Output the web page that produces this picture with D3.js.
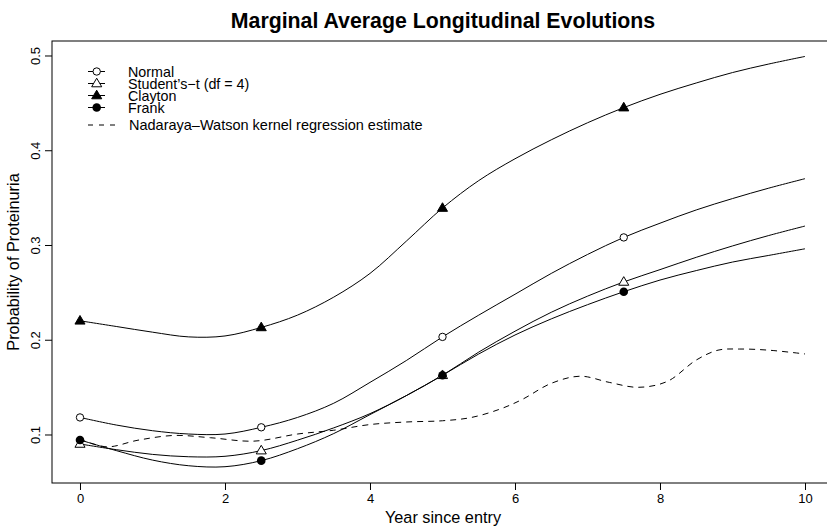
<!DOCTYPE html>
<html>
<head>
<meta charset="utf-8">
<script src="https://cdn.jsdelivr.net/npm/d3@7"></script>
<style>
  html, body { margin: 0; padding: 0; background: #fff; }
  svg { display: block; font-family: "Liberation Sans", Arial, Helvetica, sans-serif; }
</style>
</head>
<body>
<svg id="chart" width="827" height="529"></svg>
<script>
// ---------------- data ----------------
const years = [0,0.5,1,1.5,2,2.5,3,3.5,4,4.5,5,5.5,6,6.5,7,7.5,8,8.5,9,9.5,10];
const markerYears = [0, 2.5, 5, 7.5];

const normal  = [0.118,0.110,0.104,0.1005,0.1005,0.1076,0.118,0.133,0.155,0.178,0.203,0.226,0.248,0.270,0.290,0.308,0.323,0.337,0.349,0.360,0.370];
const student = [0.090,0.084,0.079,0.0765,0.077,0.083,0.094,0.107,0.122,0.141,0.1625,0.187,0.209,0.229,0.246,0.261,0.274,0.287,0.299,0.310,0.320];
const clayton = [0.220,0.214,0.208,0.203,0.204,0.213,0.226,0.245,0.270,0.304,0.339,0.368,0.391,0.411,0.429,0.445,0.459,0.471,0.482,0.491,0.499];
const frank   = [0.0942,0.083,0.073,0.067,0.066,0.0724,0.085,0.101,0.121,0.141,0.1625,0.185,0.205,0.222,0.237,0.2507,0.263,0.273,0.282,0.289,0.296];

const nwX = [0,0.37,0.8,1.3,1.8,2.4,3.0,3.5,4.0,4.5,5.0,5.4,5.8,6.1,6.5,6.9,7.3,7.7,8.1,8.5,8.8,9.1,9.5,10];
const nwY = [0.095,0.087,0.094,0.099,0.0966,0.093,0.1005,0.1045,0.1105,0.1132,0.1145,0.118,0.127,0.137,0.154,0.1615,0.155,0.1498,0.156,0.1786,0.189,0.1902,0.189,0.185];

const xTicks = [0,2,4,6,8,10];
const yTicks = [0.1,0.2,0.3,0.4,0.5];

const seriesNames = ["Normal", "Student\u2019s\u2212t (df = 4)", "Clayton", "Frank"];
const seriesData = [normal, student, clayton, frank];
const seriesSymbols = ["openCircle", "openTriangle", "filledTriangle", "filledCircle"];
const nwName = "Nadaraya\u2013Watson kernel regression estimate";

const title = "Marginal Average Longitudinal Evolutions";
const xLabel = "Year since entry";
const yLabel = "Probability of Proteinuria";

// ---------------- layout ----------------
const svg = d3.select("#chart");
const L = 52, R = 834, T = 41, B = 483;
const x = d3.scaleLinear().domain([-0.3862, 10.4]).range([L, R]);
const y = d3.scaleLinear().domain([0.04881, 0.5153]).range([B, T]);

// box
svg.append("rect").attr("x", L).attr("y", T).attr("width", R - L).attr("height", B - T)
  .attr("fill", "none").attr("stroke", "#000").attr("stroke-width", 1);

// axes
const gx = svg.append("g").attr("transform", `translate(0,${B})`)
  .call(d3.axisBottom(x).tickValues(xTicks).tickFormat(d3.format("d")).tickSize(7).tickPadding(4));
gx.select(".domain").remove();
gx.selectAll("text").attr("font-size", 13).attr("fill", "#000").attr("font-family", "Liberation Sans, Arial, sans-serif");

const gy = svg.append("g").attr("transform", `translate(${L},0)`)
  .call(d3.axisLeft(y).tickValues(yTicks).tickFormat(d3.format(".1f")).tickSize(7));
gy.select(".domain").remove();
gy.selectAll(".tick text")
  .attr("font-size", 13).attr("fill", "#000").attr("font-family", "Liberation Sans, Arial, sans-serif")
  .attr("x", null).attr("dy", null)
  .attr("text-anchor", "middle")
  .attr("transform", "translate(-12,0) rotate(-90)");

// titles
svg.append("text").attr("x", (L + R) / 2).attr("y", 28).attr("text-anchor", "middle")
  .attr("font-size", 21.3).attr("font-weight", "bold").text(title);
svg.append("text").attr("x", (L + R) / 2).attr("y", 523).attr("text-anchor", "middle")
  .attr("font-size", 16.3).text(xLabel);
svg.append("text").attr("transform", `translate(19,${(T + B) / 2}) rotate(-90)`).attr("text-anchor", "middle")
  .attr("font-size", 16.3).text(yLabel);

// symbols
function drawSymbol(g, type, cx, cy) {
  if (type === "openCircle") {
    g.append("circle").attr("cx", cx).attr("cy", cy).attr("r", 3.7)
      .attr("fill", "#fff").attr("stroke", "#000").attr("stroke-width", 1);
  } else if (type === "filledCircle") {
    g.append("circle").attr("cx", cx).attr("cy", cy).attr("r", 4.3).attr("fill", "#000");
  } else {
    const s = 5.3;
    const pts = [[cx, cy - s], [cx - s * 0.95, cy + s * 0.62], [cx + s * 0.95, cy + s * 0.62]];
    g.append("path").attr("d", "M" + pts.map(p => p.join(",")).join("L") + "Z")
      .attr("fill", type === "filledTriangle" ? "#000" : "#fff")
      .attr("stroke", "#000").attr("stroke-width", 1);
  }
}

const line = d3.line().x(d => x(d[0])).y(d => y(d[1])).curve(d3.curveCatmullRom.alpha(0.5));
const plot = svg.append("g");

seriesData.forEach((vals, i) => {
  const pts = years.map((yr, j) => [yr, vals[j]]);
  plot.append("path").attr("d", line(pts)).attr("fill", "none").attr("stroke", "#000").attr("stroke-width", 1);
});
seriesData.forEach((vals, i) => {
  years.forEach((yr, j) => {
    if (markerYears.includes(yr)) drawSymbol(plot, seriesSymbols[i], x(yr), y(vals[j]));
  });
});

// NW dashed
plot.append("path").attr("d", line(nwX.map((v, j) => [v, nwY[j]])))
  .attr("fill", "none").attr("stroke", "#000").attr("stroke-width", 1).attr("stroke-dasharray", "6,5");

// legend
const leg = svg.append("g");
const rows = [71.5, 83.5, 95.5, 107.5];
seriesNames.forEach((name, i) => {
  const yy = rows[i];
  leg.append("line").attr("x1", 88).attr("x2", 105).attr("y1", yy).attr("y2", yy).attr("stroke", "#000");
  drawSymbol(leg, seriesSymbols[i], 96.7, yy);
  leg.append("text").attr("x", 128).attr("y", yy + 5).attr("font-size", 14.3).text(name);
});
leg.append("line").attr("x1", 88).attr("x2", 115).attr("y1", 125).attr("y2", 125)
  .attr("stroke", "#000").attr("stroke-dasharray", "5,6");
leg.append("text").attr("x", 129).attr("y", 130).attr("font-size", 14.5).text(nwName);
</script>
</body>
</html>
